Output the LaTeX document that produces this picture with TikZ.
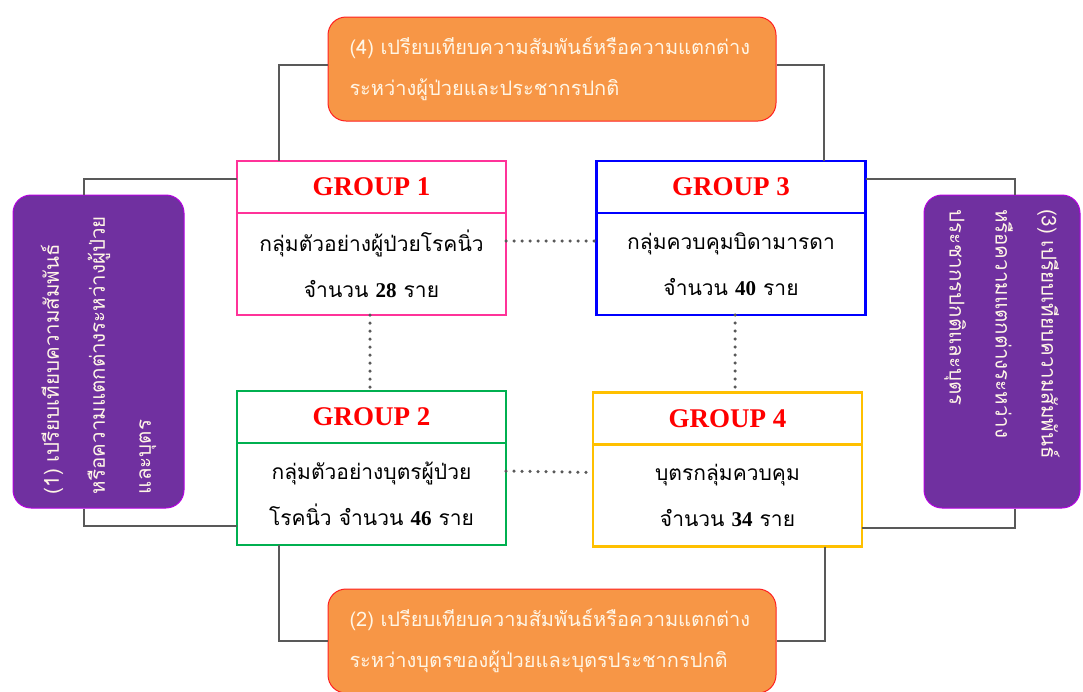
\documentclass[tikz,border=0pt]{standalone}
\usepackage{fontspec}
\setmainfont{Liberation Serif}
\newfontfamily\thai[Script=Thai]{Loma}
\definecolor{gPink}{HTML}{FF3399}
\definecolor{gBlue}{HTML}{0000FF}
\definecolor{gGreen}{HTML}{00B050}
\definecolor{gGold}{HTML}{FFC000}
\definecolor{oFill}{HTML}{F79646}
\definecolor{oLine}{HTML}{FF2020}
\definecolor{pFill}{HTML}{7030A0}
\definecolor{pLine}{HTML}{B400E0}
\definecolor{cream}{HTML}{FFF6E6}
\definecolor{lnGray}{HTML}{595959}
\newcommand\bnum[1]{{\rmfamily\bfseries #1}}
\begin{document}
\begin{tikzpicture}[x=1pt,y=-1pt,
  ghead/.style={draw=#1, line width=2.5pt, minimum width=269pt, minimum height=52pt, inner sep=0pt,
    outer sep=0pt, font=\fontsize{27}{30}\selectfont\bfseries, text=red},
  gbody/.style={draw=#1, line width=2.5pt, minimum width=269pt, minimum height=102pt, inner sep=0pt,
    outer sep=0pt, align=center, font=\thai\fontsize{21}{46}\selectfont,
    execute at begin node={\rule{0pt}{34pt}}},
  obox/.style={draw=oLine, fill=oFill, line width=1pt, rounded corners=18pt, minimum width=448pt,
    minimum height=104pt, text width=405pt, align=left, text=cream, inner sep=0pt,
    font=\thai\fontsize{20}{41}\selectfont},
  pbox/.style={draw=pLine, fill=pFill, line width=1pt, rounded corners=18pt, minimum width=313pt,
    minimum height=160pt, text width=285pt, align=left, text=cream, inner sep=0pt,
    font=\thai\fontsize{20.5}{46}\selectfont},
  conn/.style={draw=lnGray, line width=2pt},
  dotline/.style={draw=lnGray, line width=3.5pt, line cap=round, dash pattern=on 0pt off 8pt}
]
\useasboundingbox (0,0) rectangle (1083,691);

% group boxes
\node[ghead=gPink] (g1h) at (371.5,187) {GROUP 1};
\node[gbody=gPink, anchor=north] (g1b) at (g1h.south) {กลุ่มตัวอย่างผู้ป่วยโรคนิ่ว\\จำนวน \bnum{28} ราย};
\node[ghead=gBlue] (g3h) at (731,187) {GROUP 3};
\node[gbody=gBlue, anchor=north] (g3b) at (g3h.south) {กลุ่มควบคุมบิดามารดา\\จำนวน \bnum{40} ราย};
\node[ghead=gGreen] (g2h) at (371.5,417) {GROUP 2};
\node[gbody=gGreen, anchor=north] (g2b) at (g2h.south) {กลุ่มตัวอย่างบุตรผู้ป่วย\\โรคนิ่ว จำนวน \bnum{46} ราย};
\node[ghead=gGold] (g4h) at (727.5,418.5) {GROUP 4};
\node[gbody=gGold, anchor=north] (g4b) at (g4h.south) {บุตรกลุ่มควบคุม\\จำนวน \bnum{34} ราย};

% orange boxes
\node[obox] (top) at (552,69) {(4) เปรียบเทียบความสัมพันธ์หรือความแตกต่าง\\ระหว่างผู้ป่วยและประชากรปกติ};
\node[obox] (bot) at (552,641) {(2) เปรียบเทียบความสัมพันธ์หรือความแตกต่าง\\ระหว่างบุตรของผู้ป่วยและบุตรประชากรปกติ};

% purple boxes
\node[pbox, minimum height=171pt, rotate=90] (lft) at (98.5,351.5) {(1) เปรียบเทียบความสัมพันธ์\\หรือความแตกต่างระหว่างผู้ป่วย\\และบุตร};
\node[pbox, minimum height=156pt, rotate=-90] (rgt) at (1002,351.5) {(3) เปรียบเทียบความสัมพันธ์\\หรือความแตกต่างระหว่าง\\ประชากรปกติและบุตร};

% connectors
\draw[conn] ([xshift=42pt]g1h.north west) |- ([yshift=4pt]top.west);
\draw[conn] ([xshift=-42pt]g3h.north east) |- ([yshift=4pt]top.east);
\draw[conn] ([xshift=42pt]g2b.south west) |- (bot.west);
\draw[conn] ([xshift=-37pt]g4b.south east) |- (bot.east);
\draw[conn] ([xshift=-15pt]lft.east) |- ([yshift=8pt]g1h.west);
\draw[conn] ([xshift=-15pt]lft.west) |- ([yshift=-32pt]g2b.west);
\draw[conn] ([xshift=13pt]rgt.west) |- ([yshift=8pt]g3h.east);
\draw[conn] ([xshift=13pt]rgt.east) |- ([yshift=-32pt]g4b.east);

% dotted links
\draw[dotline] ([yshift=23pt]g1b.east) -- ([yshift=23pt]g3b.west);
\draw[dotline] ([yshift=23pt]g2b.east) -- ([yshift=23pt]g4b.west);
\draw[dotline] ([xshift=-1.5pt]g1b.south) -- ([xshift=-1.5pt]g2h.north);
\draw[dotline] ([xshift=4pt]g3b.south) -- ([xshift=7.5pt]g4h.north);
\end{tikzpicture}
\end{document}
